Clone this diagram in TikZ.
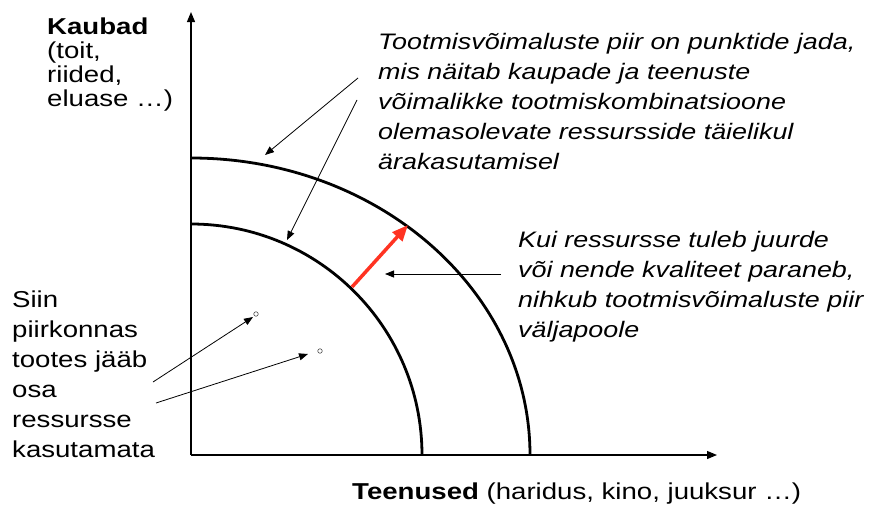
\documentclass[tikz,border=0pt]{standalone}
\usepackage{fontspec}
\setmainfont[FakeStretch=1.2]{Liberation Sans}
\usetikzlibrary{arrows.meta}

\tikzset{
  txt/.style={anchor=base west,inner sep=0pt,align=left,font=\fontsize{23}{30}\selectfont},
  note/.style={txt,font=\fontsize{22.4}{30}\selectfont\itshape},
  pointer/.style={-{Triangle[length=9pt,width=7pt]},line width=0.8pt},
  ppf/.style={line width=2.8pt},
  dot/.style={circle,draw=black!70,line width=0.6pt,inner sep=0pt,minimum size=4.5pt}
}

\begin{document}
\begin{tikzpicture}[x=1pt,y=-1pt]
\useasboundingbox (0,0) rectangle (871,514);
% axes
\coordinate (O) at (191,455);
\coordinate (ytop) at (191,12);
\coordinate (xend) at (717,455);
\draw[-{Triangle[length=10pt,width=8pt]},line width=1.2pt] (O) -- (ytop);
\draw[-{Triangle[length=10pt,width=8pt]},line width=1.2pt] (O) -- (xend);
% production possibility frontiers
\draw[ppf] (191,158) arc[start angle=90,end angle=0,x radius=339pt,y radius=297pt];
\draw[ppf] (191,224) arc[start angle=90,end angle=0,x radius=231pt,y radius=231pt];
% labels (base anchor = last line)
\node[txt,font=\fontsize{23}{24}\selectfont] (kaubad) at (47,106)
  {\textbf{Kaubad}\\(toit,\\riided,\\eluase …)};
\node[txt] (teenused) at (352,499) {\textbf{Teenused} (haridus, kino, juuksur …)};
\node[note] (piir) at (378,169)
  {Tootmisvõimaluste piir on punktide jada,\\mis näitab kaupade ja teenuste\\võimalikke tootmiskombinatsioone\\olemasolevate ressursside täielikul\\ärakasutamisel};
\node[note] (kui) at (518,337)
  {Kui ressursse tuleb juurde\\või nende kvaliteet paraneb,\\nihkub tootmisvõimaluste piir\\väljapoole};
\node[txt] (siin) at (12,457)
  {Siin\\piirkonnas\\tootes jääb\\osa\\ressursse\\kasutamata};
% inner points
\node[dot] (p1) at (256,314) {};
\node[dot] (p2) at (320,351) {};
% pointers
\coordinate (a1) at (358,78);  \coordinate (b1) at (265,155);
\coordinate (a2) at (357,100); \coordinate (b2) at (287,240);
\coordinate (a3) at (501,274); \coordinate (b3) at (385,274);
\coordinate (a4) at (153,382); \coordinate (b4) at (253,317);
\coordinate (a5) at (156,403); \coordinate (b5) at (308,354);
\draw[pointer] (a1) -- (b1);
\draw[pointer] (a2) -- (b2);
\draw[pointer] (a3) -- (b3);
\draw[pointer] (a4) -- (b4);
\draw[pointer] (a5) -- (b5);
% shift of the frontier
\coordinate (s0) at (352,287);
\coordinate (s1) at (408,225);
\draw[-{Triangle[length=16pt,width=13pt]},line width=3.5pt,color={rgb,255:red,255;green,51;blue,34}] (s0) -- (s1);
\end{tikzpicture}
\end{document}
